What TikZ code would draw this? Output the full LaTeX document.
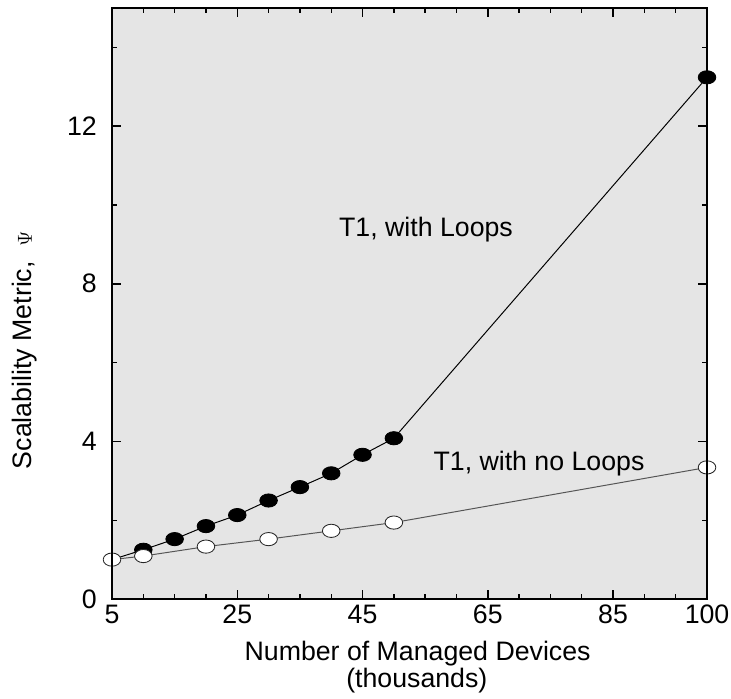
\documentclass[tikz,border=0pt]{standalone}
\usepackage{fontspec}
\setmainfont{Liberation Sans}
\usepackage{tikz}
\usetikzlibrary{shapes.geometric}
\definecolor{panelgray}{RGB}{229, 229, 229}
\definecolor{nolooprule}{RGB}{85, 85, 85}

\begin{document}
\begin{tikzpicture}[
  dotfull/.style={ellipse, draw=black, fill=black, line width=0.6pt,
                  minimum width=0.44cm, minimum height=0.33cm, inner sep=0pt},
  dotopen/.style={dotfull, fill=white, draw=black!85},
  txt/.style={font=\fontsize{19}{21}\selectfont, inner sep=0pt},
  tickline/.style={line width=1pt},
]
\useasboundingbox (0,0) rectangle (18.275,17.45);
\fill[panelgray] (2.8,2.475) rectangle (17.675,17.25);

\begin{scope}[shift={(2.017,2.475)}, x=0.15658cm, y=0.985cm]
% Data
\foreach \name/\px/\py in {w5/5/1.0, w10/10/1.25, w15/15/1.52, w20/20/1.85,
    w25/25/2.13, w30/30/2.5, w35/35/2.84, w40/40/3.19, w45/45/3.66,
    w50/50/4.08, w100/100/13.24}
  \coordinate (\name) at (\px,\py);
\foreach \name/\px/\py in {n5/5/1.0, n10/10/1.09, n20/20/1.33, n30/30/1.52,
    n40/40/1.73, n50/50/1.94, n100/100/3.34}
  \coordinate (\name) at (\px,\py);

\draw[line width=0.7pt] (w5) -- (w10) -- (w15) -- (w20) -- (w25) -- (w30)
     -- (w35) -- (w40) -- (w45) -- (w50) -- (w100);
\draw[nolooprule, line width=0.7pt] (n5) -- (n10) -- (n20) -- (n30) -- (n40)
     -- (n50) -- (n100);

\foreach \name in {w10,w15,w20,w25,w30,w35,w40,w45,w50,w100}
  \node[dotfull] (m\name) at (\name) {};
\foreach \name in {n5,n10,n20,n30,n40,n50,n100}
  \node[dotopen] (m\name) at (\name) {};

% Frame and ticks
\draw[line width=1.8pt] (5,0) rectangle (100,15);
\foreach \x in {10,15,20,30,35,40,50,55,60,70,75,80,90,95} {
  \draw[tickline] (\x,0) -- ++(0,0.13cm);
  \draw[tickline] (\x,15) -- ++(0,-0.13cm);
}
\foreach \x in {25,45,65,85} {
  \draw[tickline] (\x,0) -- ++(0,0.22cm);
  \draw[tickline] (\x,15) -- ++(0,-0.22cm);
}
\foreach \y in {2,6,10,14} {
  \draw[tickline] (5,\y) -- ++(0.13cm,0);
  \draw[tickline] (100,\y) -- ++(-0.13cm,0);
}
\foreach \y in {4,8,12} {
  \draw[tickline] (5,\y) -- ++(0.22cm,0);
  \draw[tickline] (100,\y) -- ++(-0.22cm,0);
}

% Tick labels
\foreach \x in {5,25,45,65,85,100}
  \node[txt, anchor=north, yshift=-0.15cm] (xt\x) at (\x,0) {\x};
\foreach \y in {0,4,8,12}
  \node[txt, anchor=east, xshift=-0.375cm] (yt\y) at (5,\y) {\y};
\end{scope}

% Curve labels
\node[txt, anchor=base] (loops) at (10.65,11.53) {T1, with Loops};
\node[txt, anchor=base] (noloops) at (13.475,5.70) {T1, with no Loops};

% Axis titles
\node[txt, anchor=base] (xtitle) at (10.44,0.95) {Number of Managed Devices};
\node[txt, anchor=base] (xunit) at (10.42,0.275) {(thousands)};
\node[txt, rotate=90] (ytitle) at (0.625,8.70)
  {Scalability Metric,~ {\fontsize{14}{14}\selectfont$\Psi$}};
\end{tikzpicture}
\end{document}
